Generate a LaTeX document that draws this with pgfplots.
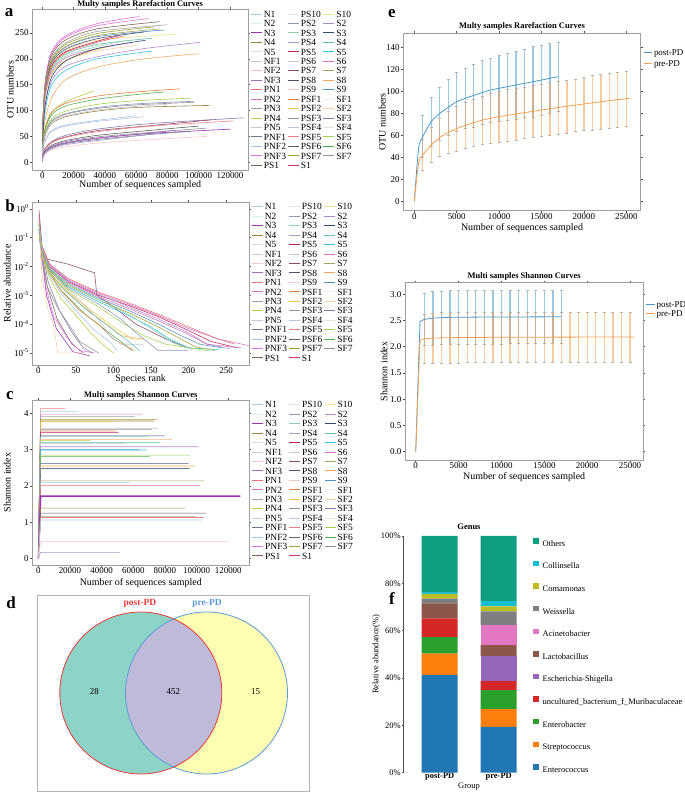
\documentclass[border=0pt]{standalone}
\usepackage{pgfplots}
\pgfplotsset{compat=1.18}
\usepackage{pgfplotstable}
\usepackage{fontspec}
\setmainfont{Liberation Serif}

\definecolor{k1}{HTML}{A6CEE3}\definecolor{k2}{HTML}{D5EEF0}\definecolor{k3}{HTML}{9B30B0}\definecolor{k4}{HTML}{A08040}
\definecolor{k5}{HTML}{D9D9D9}\definecolor{k6}{HTML}{CCCCCC}\definecolor{k7}{HTML}{F4C6C0}\definecolor{k8}{HTML}{A070B8}
\definecolor{k9}{HTML}{E87070}\definecolor{k10}{HTML}{D070C0}\definecolor{k11}{HTML}{A0A0A0}\definecolor{k12}{HTML}{B8C840}
\definecolor{k13}{HTML}{C8C8D8}\definecolor{k14}{HTML}{6A7A90}\definecolor{k15}{HTML}{9EC5EC}\definecolor{k16}{HTML}{E070E8}
\definecolor{k17}{HTML}{806050}\definecolor{k18}{HTML}{DDE4F0}\definecolor{k19}{HTML}{8C96B8}\definecolor{k20}{HTML}{8FD0B0}
\definecolor{k21}{HTML}{A898C8}\definecolor{k22}{HTML}{C02050}\definecolor{k23}{HTML}{C8C8C8}\definecolor{k24}{HTML}{8A4A6A}
\definecolor{k25}{HTML}{505070}\definecolor{k26}{HTML}{F8C8C0}\definecolor{k27}{HTML}{E08040}\definecolor{k28}{HTML}{F0C840}
\definecolor{k29}{HTML}{909090}\definecolor{k30}{HTML}{B8C4E0}\definecolor{k31}{HTML}{F08080}\definecolor{k32}{HTML}{606060}
\definecolor{k33}{HTML}{A0A030}\definecolor{k34}{HTML}{D03070}\definecolor{k35}{HTML}{F0E090}\definecolor{k36}{HTML}{B088D0}
\definecolor{k37}{HTML}{2C4A7A}\definecolor{k38}{HTML}{60C0A8}\definecolor{k39}{HTML}{30C0D8}\definecolor{k40}{HTML}{E070C8}
\definecolor{k41}{HTML}{A8A060}\definecolor{k42}{HTML}{F0A860}\definecolor{k43}{HTML}{5090C0}\definecolor{k44}{HTML}{EEEEEE}
\definecolor{k45}{HTML}{F8D0A8}\definecolor{k46}{HTML}{8878B0}\definecolor{k47}{HTML}{E0E8D8}\definecolor{k48}{HTML}{A0D050}
\definecolor{k49}{HTML}{50B050}\definecolor{k50}{HTML}{909098}

\definecolor{postc}{HTML}{4A98C9}\definecolor{prec}{HTML}{F3A050}
\definecolor{cEnt}{HTML}{1F77B4}\definecolor{cStr}{HTML}{FF7F0E}\definecolor{cEnb}{HTML}{2CA02C}
\definecolor{cUnc}{HTML}{D62728}\definecolor{cEsc}{HTML}{9467BD}\definecolor{cLac}{HTML}{8C564B}
\definecolor{cAci}{HTML}{E377C2}\definecolor{cWei}{HTML}{7F7F7F}\definecolor{cCom}{HTML}{BCBD22}
\definecolor{cCol}{HTML}{17BECF}\definecolor{cOth}{HTML}{0E9F80}
\definecolor{vteal}{HTML}{8DD3C7}\definecolor{vyel}{HTML}{FFFFB3}\definecolor{vlav}{HTML}{BEBADA}
\definecolor{vred}{HTML}{E8393A}\definecolor{vblue}{HTML}{5B9BD5}

\pgfplotsset{
  every axis/.append style={
    scale only axis,
    axis line style={draw=gray!75, line width=0.7pt},
    tick style={draw=black!70, line width=0.5pt},
    tick align=outside,
    major tick length=2bp,
    /pgf/number format/assume math mode=true,
    /pgf/number format/fixed,
    /pgf/number format/1000 sep={},
    tick label style={font=\fontsize{9}{10}\selectfont},
    xticklabel style={inner sep=0.5pt},
    yticklabel style={inner sep=1.5pt},
    label style={font=\fontsize{9}{10}\selectfont},
    scaled ticks=false,
  },
  samplegend/.style={
    legend columns=3,
    legend cell align=left,
    legend style={at={(1,1)}, anchor=north west, xshift=2.5bp, yshift=-1.5bp, draw=none, fill=none,
      inner sep=0pt, outer sep=0pt, font=\fontsize{9.5}{10}\selectfont, row sep=2.95bp,
      nodes={inner sep=0pt, inner xsep=1.5bp, text height=6.5bp, text depth=0bp}},
    legend image code/.code={\draw[line width=0.9pt,##1] (0bp,0bp) -- (11bp,0bp);},
  },
  ttl/.style={every axis title/.style={at={(0.5,1)}, anchor=base, yshift=#1,
      font=\bfseries\fontsize{8.5}{10}\selectfont}},
  xl/.style={every axis x label/.style={at={(axis description cs:0.5,0)}, anchor=center, yshift=#1}},
  yl/.style={every axis y label/.style={at={(axis description cs:0,0.5)}, anchor=center, xshift=#1, rotate=90}},
  ebar/.style={draw opacity=0, mark=none, forget plot, error bars/.cd, y dir=both, y explicit,
      error bar style={line width=1.3pt, draw=#1, draw opacity=0.55},
      error mark options={draw=gray!60, draw opacity=1, line width=0.4pt, mark size=1.5bp, rotate=90}},
}

\newcommand\LI[2]{\addlegendimage{#1}\addlegendentry{#2}}
\newcommand\samplelegend{%
\LI{k1}{N1}\LI{k18}{PS10}\LI{k35}{S10}%
\LI{k2}{N2}\LI{k19}{PS2}\LI{k36}{S2}%
\LI{k3,line width=1.8pt}{N3}\LI{k20}{PS3}\LI{k37}{S3}%
\LI{k4}{N4}\LI{k21}{PS4}\LI{k38}{S4}%
\LI{k5}{N5}\LI{k22,line width=1.8pt}{PS5}\LI{k39}{S5}%
\LI{k6}{NF1}\LI{k23}{PS6}\LI{k40}{S6}%
\LI{k7}{NF2}\LI{k24}{PS7}\LI{k41}{S7}%
\LI{k8}{NF3}\LI{k25}{PS8}\LI{k42}{S8}%
\LI{k9}{PN1}\LI{k26}{PS9}\LI{k43}{S9}%
\LI{k10}{PN2}\LI{k27}{PSF1}\LI{k44}{SF1}%
\LI{k11}{PN3}\LI{k28}{PSF2}\LI{k45}{SF2}%
\LI{k12}{PN4}\LI{k29}{PSF3}\LI{k46}{SF3}%
\LI{k13}{PN5}\LI{k30}{PSF4}\LI{k47}{SF4}%
\LI{k14}{PNF1}\LI{k31}{PSF5}\LI{k48}{SF5}%
\LI{k15}{PNF2}\LI{k32}{PSF6}\LI{k49}{SF6}%
\LI{k16}{PNF3}\LI{k33}{PSF7}\LI{k50}{SF7}%
\LI{k17}{PS1}\LI{k34}{S1}%
}

\pgfplotstableread{
x y e
1000 59 19
2000 72.5 22
3000 80 24
4000 85.5 25.5
5000 90.7 26.5
6000 93.7 27.5
7000 96.4 28.5
8000 98.9 29
9000 101.3 29
10000 102.8 30
11000 104.3 30
12000 105.8 31
13000 107.3 31
14000 108.8 32
15000 110.3 32
16000 111.9 32
17000 113.4 31.5
}\postotu
\pgfplotstableread{
x y e
1000 42.3 14
2000 51.4 16
3000 58.3 17.5
4000 62.6 19
5000 66.2 20
6000 69.2 21
7000 71.6 21.5
8000 74 22
9000 75.6 22.5
10000 77.1 23
11000 78.3 23.5
12000 79.5 23.5
13000 80.7 23.5
14000 81.9 23.5
15000 83.1 23.5
16000 84.3 24
17000 85.5 24
18000 86.5 24
19000 87.5 24
20000 88.6 24
21000 89.6 25
22000 90.6 25
23000 91.6 25
24000 92.5 25
25000 93.4 25
}\preotu
\pgfplotstableread{
x y e
1000 2.52 0.5
2000 2.545 0.51
3000 2.555 0.51
4000 2.56 0.51
5000 2.56 0.51
6000 2.562 0.51
7000 2.563 0.51
8000 2.565 0.51
9000 2.566 0.51
10000 2.567 0.51
11000 2.568 0.51
12000 2.568 0.51
13000 2.569 0.51
14000 2.569 0.51
15000 2.57 0.51
16000 2.57 0.51
17000 2.57 0.51
}\postsh
\pgfplotstableread{
x y e
1000 2.15 0.47
2000 2.165 0.48
3000 2.17 0.48
4000 2.172 0.48
5000 2.174 0.48
6000 2.175 0.48
7000 2.176 0.48
8000 2.177 0.48
9000 2.178 0.48
10000 2.179 0.48
11000 2.18 0.48
12000 2.18 0.48
13000 2.181 0.48
14000 2.181 0.48
15000 2.182 0.48
16000 2.182 0.48
17000 2.183 0.48
18000 2.183 0.48
19000 2.183 0.48
20000 2.184 0.48
21000 2.184 0.48
22000 2.184 0.48
23000 2.185 0.48
24000 2.185 0.48
25000 2.185 0.48
}\presh

\begin{document}
\begin{tikzpicture}
\path[use as bounding box] (0bp,0bp) rectangle (685bp,792bp);

% panel letters
\begin{scope}[every node/.style={font=\bfseries\fontsize{17}{17}\selectfont, inner sep=0pt}]
\node at (9bp,779bp) {a};
\node at (10bp,586bp) {b};
\node at (10bp,396bp) {c};
\node at (11bp,189bp) {d};
\node at (392bp,778bp) {e};
\node at (392bp,193bp) {f};
\end{scope}

% ---------------- a ----------------
\begin{axis}[at={(32.3bp,622bp)}, anchor=south west, width=215.7bp, height=160.7bp,
  xmin=-6400, xmax=131500, ymin=-15, ymax=296,
  xtick={0,20000,40000,60000,80000,100000,120000}, ytick={0,50,100,150,200,250},
  title={Multy samples Rarefaction Curves}, ttl=2.3bp, xl=-15.5bp, yl=-22bp,
  xlabel={Number of sequences sampled}, ylabel={OTU numbers},
  samplegend, every axis plot/.append style={line width=0.6pt, smooth, forget plot}]
\samplelegend
\addplot[k16] coordinates {(0,2)(500,90)(2000,161)(6000,214)(15000,245)(35000,268)(62000,282)};
\addplot[k40] coordinates {(0,2)(500,89)(2000,158)(6000,211)(15000,242)(35000,264)(68000,278)};
\addplot[k17] coordinates {(0,2)(500,87)(2000,155)(6000,207)(15000,237)(35000,258)(75000,272)};
\addplot[k11] coordinates {(0,2)(500,85)(2000,152)(6000,202)(15000,231)(35000,253)(80000,266)};
\addplot[k33] coordinates {(0,2)(500,84)(2000,149)(6000,199)(15000,228)(35000,249)(72000,262)};
\addplot[k43] coordinates {(0,2)(500,82)(2000,146)(6000,195)(15000,223)(35000,243)(78000,256)};
\addplot[k35] coordinates {(0,2)(500,79)(2000,141)(6000,188)(15000,216)(35000,236)(86000,248)};
\addplot[k22] coordinates {(0,2)(500,79)(2000,140)(6000,187)(15000,214)(35000,234)(50000,246)};
\addplot[k38] coordinates {(0,2)(500,77)(2000,137)(6000,182)(15000,209)(35000,228)(70000,240)};
\addplot[k20] coordinates {(0,2)(500,76)(2000,135)(6000,179)(15000,205)(35000,224)(55000,236)};
\addplot[k45] coordinates {(0,2)(500,72)(2000,129)(6000,172)(15000,197)(35000,215)(60000,226)};
\addplot[k36] coordinates {(0,2)(500,65)(2000,116)(6000,158)(15000,186)(35000,204)(65000,220)(101000,232)};
\addplot[k39] coordinates {(0,2)(500,54)(2000,103)(6000,150)(15000,178)(35000,200)(70000,215)};
\addplot[k42] coordinates {(0,2)(500,50)(2000,85)(6000,125)(15000,160)(35000,184)(65000,200)(100000,210)};
\addplot[k9] coordinates {(0,2)(500,78)(2000,139)(6000,185)(15000,212)(35000,232)(52000,244)};
\addplot[k28] coordinates {(0,2)(500,72)(2000,129)(6000,172)(15000,197)(30000,214)(45000,226)};
\addplot[k25] coordinates {(0,2)(500,81)(2000,144)(6000,192)(15000,219)(35000,239)(65000,252)};
\addplot[k10] coordinates {(0,2)(500,74)(2000,132)(6000,176)(15000,202)(35000,220)(58000,232)};
\addplot[k41] coordinates {(0,2)(500,83)(2000,147)(6000,196)(15000,224)(35000,245)(75000,258)};
\addplot[k37] coordinates {(0,2)(500,60)(2000,113)(6000,165)(15000,196)(35000,220)(66000,236)};
\addplot[k12] coordinates {(0,2)(500,40)(2000,68)(6000,96)(15000,117)(33000,138)};
\addplot[k27] coordinates {(0,2)(500,40)(2000,68)(6000,97)(15000,114)(35000,128)(60000,136)(88000,142)};
\addplot[k49] coordinates {(0,2)(500,38)(2000,65)(6000,92)(15000,109)(35000,122)(60000,131)(78000,136)};
\addplot[k48] coordinates {(0,2)(500,35)(2000,60)(6000,84)(15000,99)(35000,112)(60000,119)(95000,124)};
\addplot[k19] coordinates {(0,2)(500,33)(2000,57)(6000,80)(15000,94)(35000,106)(60000,113)(97000,118)};
\addplot[k29] coordinates {(0,2)(500,32)(2000,56)(6000,79)(15000,93)(35000,104)(60000,111)(97000,116)};
\addplot[k4] coordinates {(0,2)(500,31)(2000,53)(6000,75)(15000,88)(35000,99)(60000,106)(107000,110)};
\addplot[k15] coordinates {(0,2)(500,25)(2000,43)(6000,61)(15000,72)(35000,81)(60000,90)};
\addplot[k30] coordinates {(0,2)(500,25)(2000,42)(6000,60)(15000,70)(35000,79)(65000,88)};
\addplot[k13] coordinates {(0,2)(500,31)(2000,54)(6000,76)(15000,90)(35000,101)(60000,108)(80000,112)};
\addplot[k46] coordinates {(0,2)(500,17)(2000,28)(6000,40)(15000,52)(35000,64)(70000,75)(129000,86)};
\addplot[k24] coordinates {(0,2)(500,16)(2000,27)(6000,39)(15000,49)(35000,61)(70000,71)(108000,82)};
\addplot[k31] coordinates {(0,2)(500,16)(2000,26)(6000,38)(15000,48)(35000,59)(70000,70)(122000,80)};
\addplot[k3] coordinates {(0,2)(500,13)(2000,21)(6000,30)(15000,38)(35000,47)(70000,56)(120000,64)};
\addplot[k32] coordinates {(0,2)(500,14)(2000,23)(6000,33)(15000,42)(35000,52)(70000,62)(100000,70)};
\addplot[k50] coordinates {(0,2)(500,13)(2000,22)(6000,31)(15000,40)(35000,49)(70000,58)(105000,66)};
\addplot[k14] coordinates {(0,2)(500,12)(2000,20)(6000,28)(15000,36)(35000,44)(70000,54)(95000,60)};
\addplot[k7] coordinates {(0,2)(500,10)(2000,17)(6000,24)(15000,30)(35000,37)(70000,44)(105000,50)};
\addplot[k8] coordinates {(0,2)(500,12)(2000,20)(6000,29)(15000,37)(35000,46)(70000,57)(85000,62)};
\addplot[k21] coordinates {(0,2)(500,11)(2000,18)(6000,26)(15000,34)(35000,42)(75000,56)};
\end{axis}

% ---------------- b ----------------
\begin{axis}[at={(32.3bp,427bp)}, anchor=south west, width=216.7bp, height=163bp,
  ymode=log, xmin=-8, xmax=280.6, ymin=3.8e-6, ymax=1.74,
  xtick={0,50,100,150,200,250},
  ytick={1,0.1,0.01,0.001,0.0001,0.00001},
  yticklabels={10\textsuperscript{0},10\textsuperscript{-1},10\textsuperscript{-2},10\textsuperscript{-3},10\textsuperscript{-4},10\textsuperscript{-5}},
  xl=-14.5bp, yl=-25bp,
  xlabel={Species rank}, ylabel={Relative abundance},
  samplegend, every axis plot/.append style={line width=0.55pt, forget plot}]
\samplelegend
\addplot[k3] coordinates {(1,0.5)(4,0.03)(11,1e-3)(24,7e-5)(46,1.1e-5)(68,8e-6)};
\addplot[k17] coordinates {(1,0.3)(5,0.03)(12,2e-3)(25,1.5e-4)(45,2e-5)(60,1e-5)};
\addplot[k16] coordinates {(1,0.6)(4,0.05)(10,2e-3)(20,2e-4)(40,3e-5)(55,1.2e-5)(75,1e-5)};
\addplot[k46] coordinates {(1,0.4)(5,0.04)(13,3e-3)(28,3e-4)(45,5e-5)(60,1.5e-5)(72,1e-5)};
\addplot[k45] coordinates {(1,0.5)(3,0.02)(6,3e-3)(12,4e-4)(20,1e-4)(26,1e-5)(62,1e-5)};
\addplot[k50] coordinates {(1,0.3)(5,0.015)(12,2e-3)(25,4e-4)(40,1e-4)(55,2.5e-5)(80,1e-5)};
\addplot[k49] coordinates {(1,0.3)(5,0.03)(15,6e-3)(30,1.5e-3)(60,2.5e-4)(90,6e-5)(110,2.5e-5)(125,1.2e-5)};
\addplot[k42] coordinates {(1,0.2)(5,0.03)(15,7e-3)(30,2e-3)(60,4e-4)(90,1e-4)(110,4e-5)(140,3e-5)};
\addplot[k15] coordinates {(1,0.25)(5,0.025)(15,5e-3)(30,1.2e-3)(50,3e-4)(75,6e-5)(95,2.5e-5)(105,1.2e-5)};
\addplot[k12] coordinates {(1,0.3)(6,0.02)(15,4e-3)(30,8e-4)(50,2e-4)(70,5e-5)(85,2e-5)(100,1e-5)};
\addplot[k27] coordinates {(1,0.2)(5,0.03)(15,6e-3)(30,1.5e-3)(55,3e-4)(80,1e-4)(100,3e-5)(128,1.2e-5)};
\addplot[k38] coordinates {(1,0.15)(5,0.025)(15,6e-3)(35,1.5e-3)(65,3e-4)(95,8e-5)(120,2.5e-5)(135,1.2e-5)};
\addplot[k24] coordinates {(1,0.9)(5,0.05)(12,0.018)(40,0.012)(75,6e-3)(78,1e-3)(100,4e-4)(130,1e-4)(170,3e-5)(200,1.5e-5)};
\addplot[k30] coordinates {(1,0.2)(5,0.04)(15,8e-3)(35,2e-3)(60,5e-4)(80,1.5e-4)(95,4e-5)(110,2e-5)(140,2e-5)};
\addplot[k40] coordinates {(1,0.2)(5,0.04)(15,0.012)(40,3.5e-3)(80,1.2e-3)(120,5e-4)(160,2e-4)(200,7e-5)(240,3e-5)(280,1.8e-5)};
\addplot[k22] coordinates {(1,0.15)(5,0.035)(15,0.01)(40,3e-3)(80,1e-3)(120,4.5e-4)(160,1.8e-4)(200,6e-5)(230,2.5e-5)(265,1.5e-5)};
\addplot[k36] coordinates {(1,0.25)(5,0.05)(15,0.011)(40,3.2e-3)(80,1.1e-3)(120,4e-4)(160,1.5e-4)(200,5e-5)(225,2e-5)(255,1.4e-5)};
\addplot[k43] coordinates {(1,0.1)(5,0.03)(15,0.009)(40,2.5e-3)(80,8e-4)(120,3e-4)(160,1e-4)(190,4e-5)(215,2e-5)(245,1.5e-5)};
\addplot[k10] coordinates {(1,0.3)(5,0.04)(15,0.01)(40,2.8e-3)(80,9e-4)(120,3.5e-4)(160,1.3e-4)(195,5e-5)(225,2e-5)(270,1.5e-5)};
\addplot[k39] coordinates {(1,0.2)(5,0.03)(15,8e-3)(40,2e-3)(80,6e-4)(120,2e-4)(150,8e-5)(175,3e-5)(200,1.5e-5)(240,1.3e-5)};
\addplot[k33] coordinates {(1,0.15)(5,0.03)(15,8e-3)(40,2.2e-3)(80,7e-4)(120,2.5e-4)(160,8e-5)(190,3e-5)(210,1.6e-5)(235,1.2e-5)};
\addplot[k9] coordinates {(1,0.35)(5,0.05)(15,0.012)(40,3.8e-3)(80,1.3e-3)(120,5.5e-4)(160,2.2e-4)(200,8e-5)(240,3e-5)(262,2e-5)};
\addplot[k48] coordinates {(1,0.2)(5,0.03)(15,7e-3)(40,1.6e-3)(80,4e-4)(110,1.2e-4)(140,4e-5)(170,2e-5)(225,1.2e-5)};
\addplot[k28] coordinates {(1,0.15)(5,0.025)(15,6e-3)(40,1.3e-3)(70,3e-4)(100,8e-5)(125,3e-5)(140,3e-5)};
\addplot[k19] coordinates {(1,0.2)(5,0.03)(15,7e-3)(40,1.8e-3)(80,5e-4)(110,1.5e-4)(130,5e-5)(160,1.2e-5)(200,1.2e-5)};
\addplot[k20] coordinates {(1,0.3)(5,0.04)(15,9e-3)(40,2.5e-3)(80,7e-4)(120,2.2e-4)(150,7e-5)(180,2.2e-5)(205,1.3e-5)};
\end{axis}

% ---------------- c ----------------
\begin{axis}[at={(32.3bp,227bp)}, anchor=south west, width=217bp, height=165bp,
  xmin=-3800, xmax=133300, ymin=-0.18, ymax=4.37,
  xtick={0,20000,40000,60000,80000,100000,120000}, ytick={0,1,2,3,4},
  title={Multi samples Shannon Curves}, ttl=2.5bp, xl=-18bp, yl=-25bp,
  xlabel={Number of sequences sampled}, ylabel={Shannon index},
  samplegend, every axis plot/.append style={line width=0.6pt, forget plot}]
\samplelegend
\addplot[k31] coordinates {(0,0)(1500,4.14)(17000,4.14)};
\addplot[k1] coordinates {(0,0)(1500,4.05)(25500,4.05)};
\addplot[k40] coordinates {(0,0)(1500,3.98)(65600,3.98)};
\addplot[k11] coordinates {(0,0)(1500,3.92)(61000,3.92)};
\addplot[k33] coordinates {(0,0)(1500,3.83)(75000,3.83)};
\addplot[k4] coordinates {(0,0)(1500,3.79)(73000,3.79)};
\addplot[k28] coordinates {(0,0)(1500,3.77)(47600,3.77)};
\addplot[k23] coordinates {(0,0)(1500,3.59)(75600,3.59)};
\addplot[k29] coordinates {(0,0)(1500,3.56)(71800,3.56)};
\addplot[k27] coordinates {(0,0)(1500,3.52)(48600,3.52)};
\addplot[k22] coordinates {(0,0)(1500,3.48)(50700,3.48)};
\addplot[k37] coordinates {(0,0)(1500,3.38)(79800,3.38)};
\addplot[k20] coordinates {(0,0)(1500,3.36)(68700,3.36)};
\addplot[k45] coordinates {(0,0)(1500,3.28)(84400,3.28)};
\addplot[k12] coordinates {(0,0)(1500,3.25)(32800,3.25)};
\addplot[k38] coordinates {(0,0)(1500,3.19)(77000,3.19)};
\addplot[k5] coordinates {(0,0)(1500,3.17)(55000,3.17)};
\addplot[k36] coordinates {(0,0)(1500,3.08)(101300,3.08)};
\addplot[k43] coordinates {(0,0)(1500,3.01)(63400,3.01)};
\addplot[k39] coordinates {(0,0)(1500,2.99)(68700,2.99)};
\addplot[k48] coordinates {(0,0)(1500,2.85)(96000,2.85)};
\addplot[k49] coordinates {(0,0)(1500,2.81)(70300,2.81)};
\addplot[k19] coordinates {(0,0)(1500,2.62)(95000,2.62)};
\addplot[k42] coordinates {(0,0)(1500,2.55)(99200,2.55)};
\addplot[k14] coordinates {(0,0)(1500,2.48)(95600,2.48)};
\addplot[k41] coordinates {(0,0)(1500,2.14)(105000,2.14)};
\addplot[k15] coordinates {(0,0)(1500,2.09)(57700,2.09)};
\addplot[k9] coordinates {(0,0)(1500,2.01)(102000,2.01)};
\addplot[k16] coordinates {(0,0)(1500,1.71)(121000,1.71)};
\addplot[k3, line width=1.4pt] coordinates {(0,0)(1500,1.72)(127600,1.72)};
\addplot[k4] coordinates {(0,0)(1500,1.39)(92900,1.39)};
\addplot[k25] coordinates {(0,0)(1500,1.25)(106000,1.25)};
\addplot[k11] coordinates {(0,0)(1500,1.16)(99200,1.16)};
\addplot[k31] coordinates {(0,0)(1500,1.13)(104400,1.13)};
\addplot[k1] coordinates {(0,0)(1500,1.06)(103400,1.06)};
\addplot[k26] coordinates {(0,0)(1500,0.46)(120200,0.46)};
\addplot[k21] coordinates {(0,0)(1500,0.17)(51400,0.17)};
\end{axis}

% ---------------- d ----------------
\begin{axis}[at={(37.3bp,1bp)}, anchor=south west, width=272bp, height=196bp,
  xmin=37.3, xmax=309.3, ymin=1, ymax=197, xtick=\empty, ytick=\empty,
  axis line style={draw=gray!60, line width=0.7pt}, clip=false]
\fill[vteal] (axis cs:140.8,99) circle[radius=81bp];
\fill[vyel] (axis cs:206.5,99) circle[radius=81bp];
\fill[vlav] (axis cs:173.65,173.04) arc[start angle=66.07, end angle=-66.07, radius=81bp]
   arc[start angle=246.07, end angle=113.93, radius=81bp] -- cycle;
\draw[vred, line width=0.8pt] (axis cs:140.8,99) circle[radius=81bp];
\draw[vblue, line width=0.8pt] (axis cs:206.5,99) circle[radius=81bp];
\node[font=\bfseries\fontsize{9.5}{10}\selectfont, text=vred] at (axis cs:140,189) {post-PD};
\node[font=\bfseries\fontsize{9.5}{10}\selectfont, text=vblue] at (axis cs:207,189) {pre-PD};
\node[font=\fontsize{9}{10}\selectfont] at (axis cs:94.3,100) {28};
\node[font=\fontsize{9}{10}\selectfont] at (axis cs:173.3,100) {452};
\node[font=\fontsize{9}{10}\selectfont] at (axis cs:255.7,100) {15};
\end{axis}

% ---------------- e top ----------------
\begin{axis}[at={(403.3bp,581.3bp)}, anchor=south west, width=237.4bp, height=177.4bp,
  xmin=-1300, xmax=26700, ymin=-8.2, ymax=152.7,
  xtick={0,5000,10000,15000,20000,25000}, ytick={0,20,40,60,80,100,120,140},
  title={Multy samples Rarefaction Curves}, ttl=4.5bp, xl=-17bp, yl=-21bp,
  xlabel={Number of sequences sampled}, ylabel={OTU numbers},
  legend cell align=left,
  legend style={at={(1,1)}, anchor=north west, xshift=2.3bp, yshift=-16bp, draw=none, fill=none,
      inner sep=0pt, font=\fontsize{9}{10}\selectfont, row sep=3.8bp,
      nodes={inner sep=0pt, inner xsep=1.5bp, text height=6.5bp, text depth=0bp}},
  legend image code/.code={\draw[line width=0.8pt,#1] (0bp,0bp) -- (8.5bp,0bp);}]
\addplot[ebar=postc] table[x=x, y=y, y error=e] {\postotu};
\addplot[ebar=prec] table[x=x, y=y, y error=e] {\preotu};
\addplot[postc, line width=0.8pt, smooth] coordinates {(0,0)(500,48)(1000,59)(2000,72.5)(3000,80)(4000,85.5)(5000,90.7)(6000,93.7)(7000,96.4)(8000,98.9)(9000,101.3)(10000,102.8)(11000,104.3)(12000,105.8)(13000,107.3)(14000,108.8)(15000,110.3)(16000,111.9)(17000,113.4)};
\addlegendentry{post-PD}
\addplot[prec, line width=0.8pt, smooth] coordinates {(0,0)(500,34.8)(1000,42.3)(2000,51.4)(3000,58.3)(4000,62.6)(5000,66.2)(6000,69.2)(7000,71.6)(8000,74)(9000,75.6)(10000,77.1)(11000,78.3)(12000,79.5)(13000,80.7)(14000,81.9)(15000,83.1)(16000,84.3)(17000,85.5)(18000,86.5)(19000,87.5)(20000,88.6)(21000,89.6)(22000,90.6)(23000,91.6)(24000,92.5)(25000,93.4)(25500,94)};
\addlegendentry{pre-PD}
\end{axis}

% ---------------- e bottom ----------------
\begin{axis}[at={(405bp,332bp)}, anchor=south west, width=238.3bp, height=177.3bp,
  xmin=-1250, xmax=26550, ymin=-0.16, ymax=3.22,
  xtick={0,5000,10000,15000,20000,25000}, ytick={0,0.5,1,1.5,2,2.5,3},
  yticklabel style={/pgf/number format/.cd, fixed, fixed zerofill, precision=1},
  title={Multi samples Shannon Curves}, ttl=4.5bp, xl=-17bp, yl=-21bp,
  xlabel={Number of sequences sampled}, ylabel={Shannon index},
  legend cell align=left,
  legend style={at={(1,1)}, anchor=north west, xshift=2.3bp, yshift=-18bp, draw=none, fill=none,
      inner sep=0pt, font=\fontsize{9}{10}\selectfont, row sep=2.5bp,
      nodes={inner sep=0pt, inner xsep=1.5bp, text height=6.5bp, text depth=0bp}},
  legend image code/.code={\draw[line width=0.8pt,#1] (0bp,0bp) -- (8.5bp,0bp);}]
\addplot[ebar=postc] table[x=x, y=y, y error=e] {\postsh};
\addplot[ebar=prec] table[x=x, y=y, y error=e] {\presh};
\addplot[postc, line width=0.8pt] coordinates {(0,0)(500,2.48)(1000,2.52)(2000,2.545)(4000,2.56)(8000,2.565)(17000,2.57)};
\addlegendentry{post-PD}
\addplot[prec, line width=0.8pt] coordinates {(0,0)(500,2.12)(1000,2.15)(2000,2.165)(4000,2.172)(10000,2.18)(25500,2.185)};
\addlegendentry{pre-PD}
\end{axis}

% ---------------- f ----------------
\begin{axis}[at={(403.3bp,19.3bp)}, anchor=south west, width=126.7bp, height=236.7bp,
  ybar stacked, bar width=36bp,
  xmin=-0.617, xmax=1.53, ymin=0, ymax=100,
  axis lines=left, x axis line style={draw=none}, y axis line style={-, draw=black!70},
  xtick={0,1}, xticklabels={\textbf{post-PD},\textbf{pre-PD}}, xtick style={draw=none},
  xticklabel style={yshift=1bp, font=\fontsize{8.5}{10}\selectfont},
  ytick={0,20,40,60,80,100}, yticklabels={0\%,20\%,40\%,60\%,80\%,100\%},
  yticklabel style={font=\fontsize{8.5}{10}\selectfont},
  title={Genus}, every axis title/.style={at={(0.5185,1)}, anchor=base, yshift=6bp, font=\bfseries\fontsize{8.5}{10}\selectfont},
  xlabel={Group}, every axis x label/.style={at={(axis description cs:0.5185,0)}, anchor=center, yshift=-14.3bp, font=\fontsize{8.5}{10}\selectfont},
  ylabel={Relative abundance(\%)}, every axis y label/.style={at={(axis description cs:0,0.5)}, anchor=center, xshift=-27bp, rotate=90, font=\fontsize{8.5}{10}\selectfont},
  reverse legend, legend cell align=left,
  legend style={at={(1.0237,1)}, anchor=north west, yshift=-2bp, draw=none, fill=none,
      inner sep=0pt, font=\fontsize{8.5}{10}\selectfont, row sep=14.6bp,
      nodes={inner sep=0pt, inner xsep=4bp, text height=6bp, text depth=0bp}},
  sq/.style={fill=#1, draw=none, legend image code/.code={\fill[#1] (0bp,-0.5bp) rectangle (5.5bp,5bp);}}]
\addplot[sq=cEnt] coordinates {(0,41.3)(1,19.4)}; \addlegendentry{Enterococcus}
\addplot[sq=cStr] coordinates {(0,9.0)(1,7.5)}; \addlegendentry{Streptococcus}
\addplot[sq=cEnb] coordinates {(0,7.0)(1,8.0)}; \addlegendentry{Enterobacter}
\addplot[sq=cUnc] coordinates {(0,7.9)(1,3.8)}; \addlegendentry{uncultured\_bacterium\_f\_Muribaculaceae}
\addplot[sq=cEsc] coordinates {(0,0)(1,10.7)}; \addlegendentry{Escherichia-Shigella}
\addplot[sq=cLac] coordinates {(0,6.3)(1,4.5)}; \addlegendentry{Lactobacillus}
\addplot[sq=cAci] coordinates {(0,0)(1,8.6)}; \addlegendentry{Acinetobacter}
\addplot[sq=cWei] coordinates {(0,2.0)(1,5.7)}; \addlegendentry{Weissella}
\addplot[sq=cCom] coordinates {(0,2.0)(1,2.1)}; \addlegendentry{Comamonas}
\addplot[sq=cCol] coordinates {(0,0.8)(1,2.2)}; \addlegendentry{Collinsella}
\addplot[sq=cOth] coordinates {(0,23.7)(1,27.5)}; \addlegendentry{Others}
\end{axis}
\end{tikzpicture}
\end{document}
